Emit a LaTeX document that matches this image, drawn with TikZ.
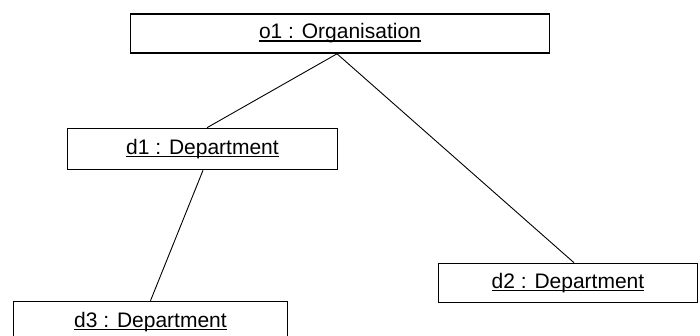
\documentclass[tikz,border=0pt]{standalone}
\usepackage{fontspec}
\setmainfont{Liberation Sans}
\newcommand{\objname}[1]{\setbox0\hbox{#1}\rlap{\rule[-2.6pt]{\wd0}{1.3pt}}\box0}
\tikzset{
	objbox/.style={draw, line width=1.6pt, inner sep=0pt, minimum height=39pt,
			font=\fontsize{21}{25}\selectfont},
	link/.style={line width=0.9pt}
}
\begin{document}
\begin{tikzpicture}[x=1pt,y=-1pt]
			\useasboundingbox (0,0) rectangle (700,335);
			\clip (0,0) rectangle (700,335);

			% Objects
			\node[objbox, minimum width=419pt] (o1) at (340,33.5) {\objname{o1 : Organisation}};
			\node[objbox, minimum width=270pt, minimum height=41pt] (d1) at (202.5,149) {\objname{d1 : Department}};
			\node[objbox, minimum width=259pt] (d2) at (568,283) {\objname{d2 : Department}};
			\node[objbox, minimum width=274pt, minimum height=41pt] (d3) at (150.5,322) {\objname{d3 : Department}};

			% Links
			\draw[link] ([xshift=-3pt]o1.south) -- ([xshift=4.5pt]d1.north);
			\draw[link] ([xshift=-3pt]o1.south) -- ([xshift=6pt]d2.north);
			\draw[link] ([xshift=0.5pt]d1.south) -- (d3.north);
		\end{tikzpicture}
\end{document}
